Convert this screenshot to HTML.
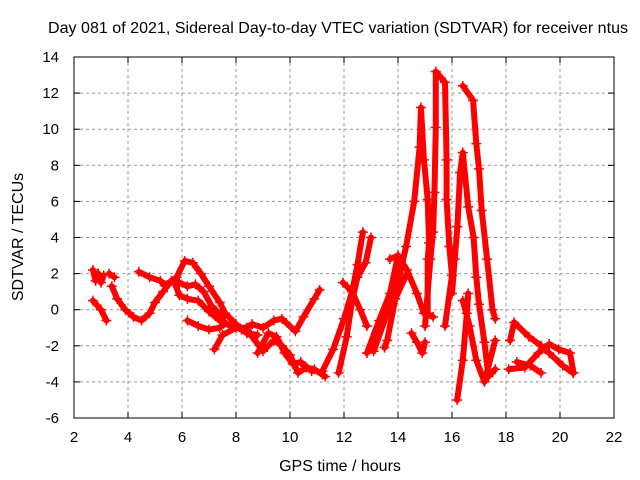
<!DOCTYPE html>
<html><head><meta charset="utf-8"><style>
body{margin:0;background:#fff}
svg{display:block;font-family:"Liberation Sans",sans-serif}
</style></head><body>
<svg id="c" width="640" height="480">
<text x="338" y="33" text-anchor="middle" font-size="16" textLength="580">Day 081 of 2021, Sidereal Day-to-day VTEC variation (SDTVAR) for receiver ntus</text>
<text x="340" y="471" text-anchor="middle" font-size="16">GPS time / hours</text>
<text transform="translate(23,237) rotate(-90)" text-anchor="middle" font-size="16">SDTVAR / TECUs</text>
<g id="grid"></g><g id="marks"></g><g id="axes"></g>
</svg>
<script>
const xTicks=[2,4,6,8,10,12,14,16,18,20,22];
const yTicks=[-6,-4,-2,0,2,4,6,8,10,12,14];
const tracks=[
[[2.7,0.5],[3.0,0.0],[3.2,-0.6]],
[[2.7,2.2],[2.8,1.6],[2.9,2.0],[3.0,1.5],[3.1,1.9]],
[[3.3,2.0],[3.5,1.8]],
[[3.4,1.3],[3.6,0.6],[3.9,0.0],[4.2,-0.4],[4.5,-0.6],[4.8,-0.2],[5.0,0.4],[5.3,1.0],[5.6,1.6]],
[[4.4,2.1],[4.8,1.8],[5.2,1.6],[5.4,1.3]],
[[5.8,1.8],[6.1,2.7],[6.4,2.6],[6.7,2.0],[7.0,1.3],[7.4,0.4],[7.6,-0.2],[8.0,-0.8],[8.4,-1.3],[8.8,-1.4]],
[[5.9,1.5],[6.2,1.3],[6.5,1.4],[6.8,1.0],[7.1,0.2],[7.5,-0.4]],
[[5.7,1.6],[5.9,0.8],[6.2,0.6],[6.6,0.5],[7.0,-0.1],[7.4,-0.6],[7.8,-0.9],[8.2,-1.1],[8.6,-0.8],[9.0,-1.0],[9.4,-0.6],[9.7,-0.5],[10.2,-1.2],[10.5,-0.4],[10.9,0.6],[11.1,1.1]],
[[6.2,-0.6],[6.6,-0.9],[7.0,-1.1],[7.4,-1.0],[7.6,-0.7]],
[[7.2,-2.2],[7.5,-1.4],[8.0,-1.0],[8.4,-1.0],[8.6,-1.5],[9.0,-2.3],[9.4,-1.7],[9.7,-2.0],[10.0,-2.5],[10.3,-3.5],[10.6,-3.2],[10.9,-3.3],[11.2,-3.6],[11.3,-3.7]],
[[8.8,-2.4],[9.2,-1.3],[9.5,-1.5],[9.8,-2.4],[10.1,-3.0],[10.4,-2.9],[10.8,-3.4]],
[[11.2,-3.4],[11.6,-2.2],[12.0,-0.5],[12.3,1.0],[12.5,2.5],[12.7,4.3]],
[[11.8,-3.5],[12.1,-1.5],[12.3,0.5],[12.5,1.8],[12.8,2.6],[13.0,4.0]],
[[11.96,1.5],[12.3,1.0],[12.6,0.0],[12.85,-0.9]],
[[13.7,2.8],[14.0,3.0],[14.33,2.2],[14.7,0.9],[14.96,-0.2],[15.3,-0.4]],
[[14.0,3.0],[13.7,0.9],[13.3,-0.6],[12.85,-2.4]],
[[14.33,2.0],[13.9,0.6],[13.6,-1.7],[13.5,-2.1]],
[[14.5,-1.3],[14.7,-1.8],[14.9,-2.4],[15.0,-1.8]],
[[13.1,-2.3],[14.0,1.5],[14.3,3.5],[14.6,6.0],[14.8,9.0],[14.85,11.2],[14.96,8.3],[15.1,6.1],[15.15,3.7],[15.1,2.8],[15.1,-0.2]],
[[15.0,-0.9],[15.2,2.8],[15.3,4.3],[15.35,6.5],[15.4,10.1],[15.4,13.2],[15.74,12.6],[15.8,8.3],[15.8,6.1],[15.9,3.5],[16.0,1.9],[15.74,-0.9]],
[[16.4,12.4],[16.78,11.6],[16.9,9.2],[17.0,7.8],[17.1,5.5],[17.3,2.8],[17.5,0.0],[17.6,-0.5]],
[[16.0,0.9],[16.1,2.8],[16.2,4.6],[16.3,7.6],[16.4,8.7],[16.6,5.7],[16.8,4.0],[16.9,1.8],[17.0,0.3],[17.2,-1.8],[17.35,-3.7],[17.6,-3.3]],
[[16.19,-5.0],[16.4,-2.8],[16.55,-0.2],[16.6,0.9]],
[[16.4,0.5],[16.65,-0.9],[16.9,-2.8],[17.2,-4.0],[17.6,-1.7]],
[[18.15,-1.7],[18.3,-0.7],[18.85,-1.5],[19.3,-2.0],[19.6,-2.4],[20.1,-3.1],[20.48,-3.5]],
[[18.1,-3.3],[18.7,-3.2],[19.2,-2.4],[19.6,-1.9],[19.95,-2.2],[20.37,-2.4],[20.5,-3.5]],
[[18.4,-2.9],[18.9,-3.1],[19.3,-3.5]]
];
const L=74,R=614,T=57,B=418;
const X=t=>L+(t-2)*(R-L)/20, Y=v=>B-(v+6)*(B-T)/20;
const ns="http://www.w3.org/2000/svg";
function mk(tag,at,parent){const e=document.createElementNS(ns,tag);for(const k in at)e.setAttribute(k,at[k]);parent.appendChild(e);return e;}
const grid=document.getElementById('grid'),axes=document.getElementById('axes'),marks=document.getElementById('marks');
xTicks.forEach(t=>{
 if(t>2&&t<22){const g=mk('line',{x1:X(t),x2:X(t),y1:T,y2:B,stroke:'#999','stroke-dasharray':'3,3'},grid);
 
 }
 mk('line',{x1:X(t),x2:X(t),y1:B,y2:B-6,stroke:'#000'},axes);
 mk('line',{x1:X(t),x2:X(t),y1:T,y2:T+6,stroke:'#000'},axes);
 const lb=mk('text',{x:X(t),y:B+24,'text-anchor':'middle','font-size':15},axes);lb.textContent=t;
 
 
});
yTicks.forEach(v=>{
 if(v>-6&&v<14){const g=mk('line',{x1:L,x2:R,y1:Y(v),y2:Y(v),stroke:'#999','stroke-dasharray':'3,3'},grid);
 
 }
 mk('line',{x1:L,x2:L+6,y1:Y(v),y2:Y(v),stroke:'#000'},axes);
 mk('line',{x1:R,x2:R-6,y1:Y(v),y2:Y(v),stroke:'#000'},axes);
 const lb=mk('text',{x:L-15,y:Y(v)+5,'text-anchor':'end','font-size':15},axes);lb.textContent=v;
 
 
});
const fr=mk('rect',{x:L,y:T,width:R-L,height:B-T,fill:'none',stroke:'#000'},axes);


tracks.forEach(tr=>{
 const pl=mk('polyline',{points:tr.map(p=>X(p[0])+','+Y(p[1])).join(' '),fill:'none',stroke:'#f00','stroke-width':6,'stroke-linejoin':'round','stroke-linecap':'round'},marks);
 
 
 tr.forEach(p=>{
  const m=mk('path',{d:`M${X(p[0])-5},${Y(p[1])}h10M${X(p[0])},${Y(p[1])-5}v10`,stroke:'#f00','stroke-width':1.5},marks);
  
  
 });
});
</script>
</body></html>
